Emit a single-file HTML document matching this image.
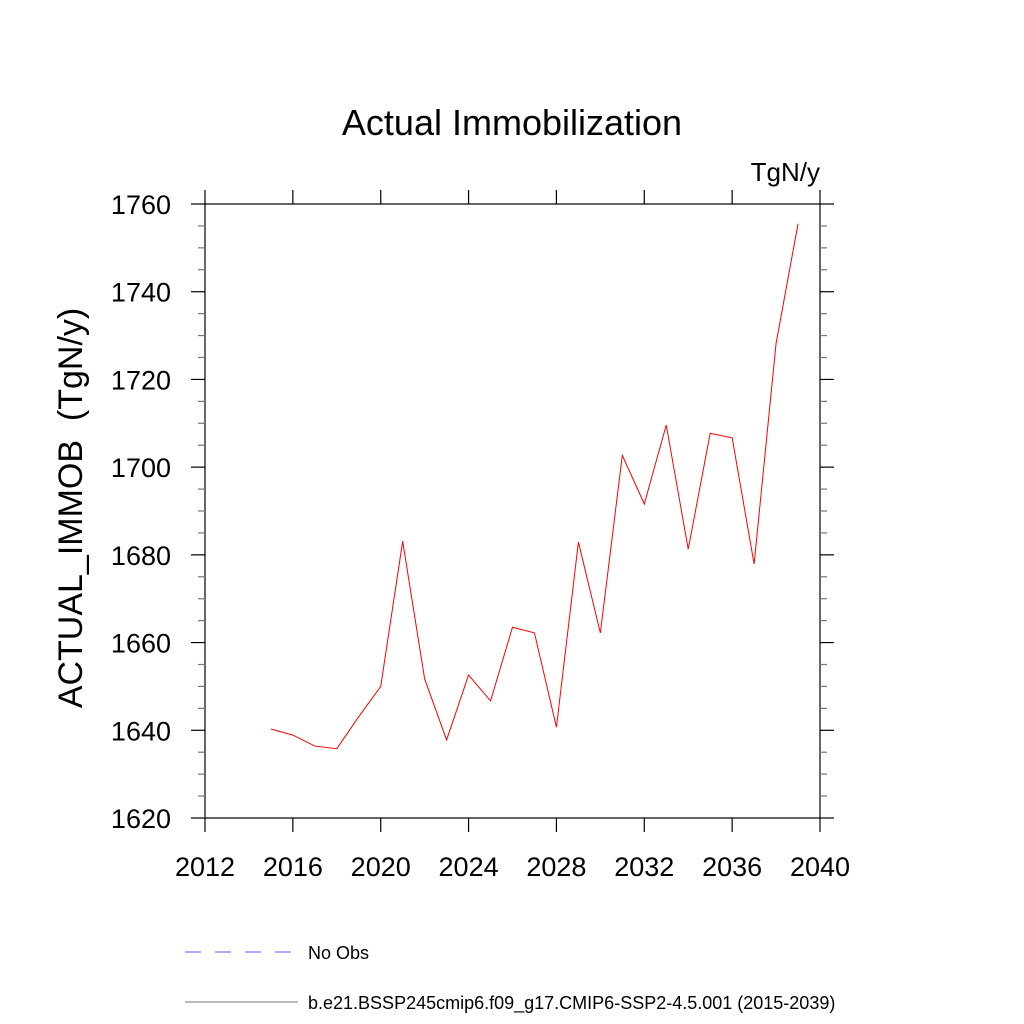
<!DOCTYPE html>
<html><head><meta charset="utf-8"><style>
html,body{margin:0;padding:0;background:#fff;}
svg{display:block;font-family:"Liberation Sans",Arial,sans-serif;}
</style></head><body>
<svg id="chart" width="1024" height="1024" viewBox="0 0 1024 1024">
<text x="512" y="135" font-size="36" text-anchor="middle">Actual Immobilization</text>
<text x="820" y="181" font-size="26" text-anchor="end">TgN/y</text>
<text transform="translate(82,508) rotate(-90)" font-size="34" text-anchor="middle" xml:space="preserve">ACTUAL_IMMOB  (TgN/y)</text>
<g id="axes"></g>
<g id="series"></g>
<g>
<line x1="185" y1="952" x2="292" y2="952" stroke="#5555ff" stroke-width="1" stroke-dasharray="16,14"/>
<text x="308" y="959" font-size="18">No Obs</text>
<line x1="185" y1="1002" x2="298" y2="1002" stroke="#777" stroke-width="1"/>
<text x="308" y="1009" font-size="18">b.e21.BSSP245cmip6.f09_g17.CMIP6-SSP2-4.5.001 (2015-2039)</text>
</g>
</svg>
<script>
const years = [2015,2016,2017,2018,2019,2020,2021,2022,2023,2024,2025,2026,2027,2028,2029,2030,2031,2032,2033,2034,2035,2036,2037,2038,2039];
const values = [1640.3,1638.9,1636.4,1635.8,1643.1,1650.0,1683.1,1651.7,1637.8,1652.6,1646.7,1663.5,1662.2,1640.7,1682.9,1662.2,1702.7,1691.6,1709.6,1681.3,1707.7,1706.7,1677.9,1728.2,1755.5];
const xTicks = [2012,2016,2020,2024,2028,2032,2036,2040];
const yTicks = [1620,1640,1660,1680,1700,1720,1740,1760];
const yMinorStep = 5;

const L=205,R=820,T=204,B=818;
const xMin=2012,xMax=2040,yMin=1620,yMax=1760;
const sx=v=>L+(v-xMin)/(xMax-xMin)*(R-L);
const sy=v=>B-(v-yMin)/(yMax-yMin)*(B-T);
const NS='http://www.w3.org/2000/svg';
function mk(tag,attrs,parent){const e=document.createElementNS(NS,tag);for(const k in attrs)e.setAttribute(k,attrs[k]);parent.appendChild(e);return e;}
const ax=document.getElementById('axes');
const frame=mk('rect',{x:L,y:T,width:R-L,height:B-T,fill:'none',stroke:'#000','stroke-width':1.2},ax);


xTicks.forEach(t=>{
  const x=sx(t);
  const tb=mk('line',{x1:x,y1:B,x2:x,y2:B+14,stroke:'#000','stroke-width':1.2},ax);
  
  
  const tt=mk('line',{x1:x,y1:T,x2:x,y2:T-14,stroke:'#000','stroke-width':1.2},ax);
  
  
  const lb=mk('text',{x:x,y:876,'font-size':27,'text-anchor':'middle'},ax);
  lb.textContent=t;
  
  
});
for(let v=yMin;v<=yMax;v+=yMinorStep){
  const major=(v-yMin)%20===0;
  const y=sy(v), len=major?14:7;
  const a=mk('line',{x1:L,y1:y,x2:L-len,y2:y,stroke:major?'#000':'#777','stroke-width':1.2},ax);
  
  
  const b=mk('line',{x1:R,y1:y,x2:R+len,y2:y,stroke:major?'#000':'#777','stroke-width':1.2},ax);
  
  
}
yTicks.forEach(t=>{
  const lb=mk('text',{x:171,y:sy(t)+10,'font-size':27,'text-anchor':'end'},ax);
  lb.textContent=t;
  
  
});
const line=mk('polyline',{points:years.map((y,i)=>sx(y)+','+sy(values[i])).join(' '),fill:'none',stroke:'#ff0000','stroke-width':1},document.getElementById('series'));


</script>
</body></html>
